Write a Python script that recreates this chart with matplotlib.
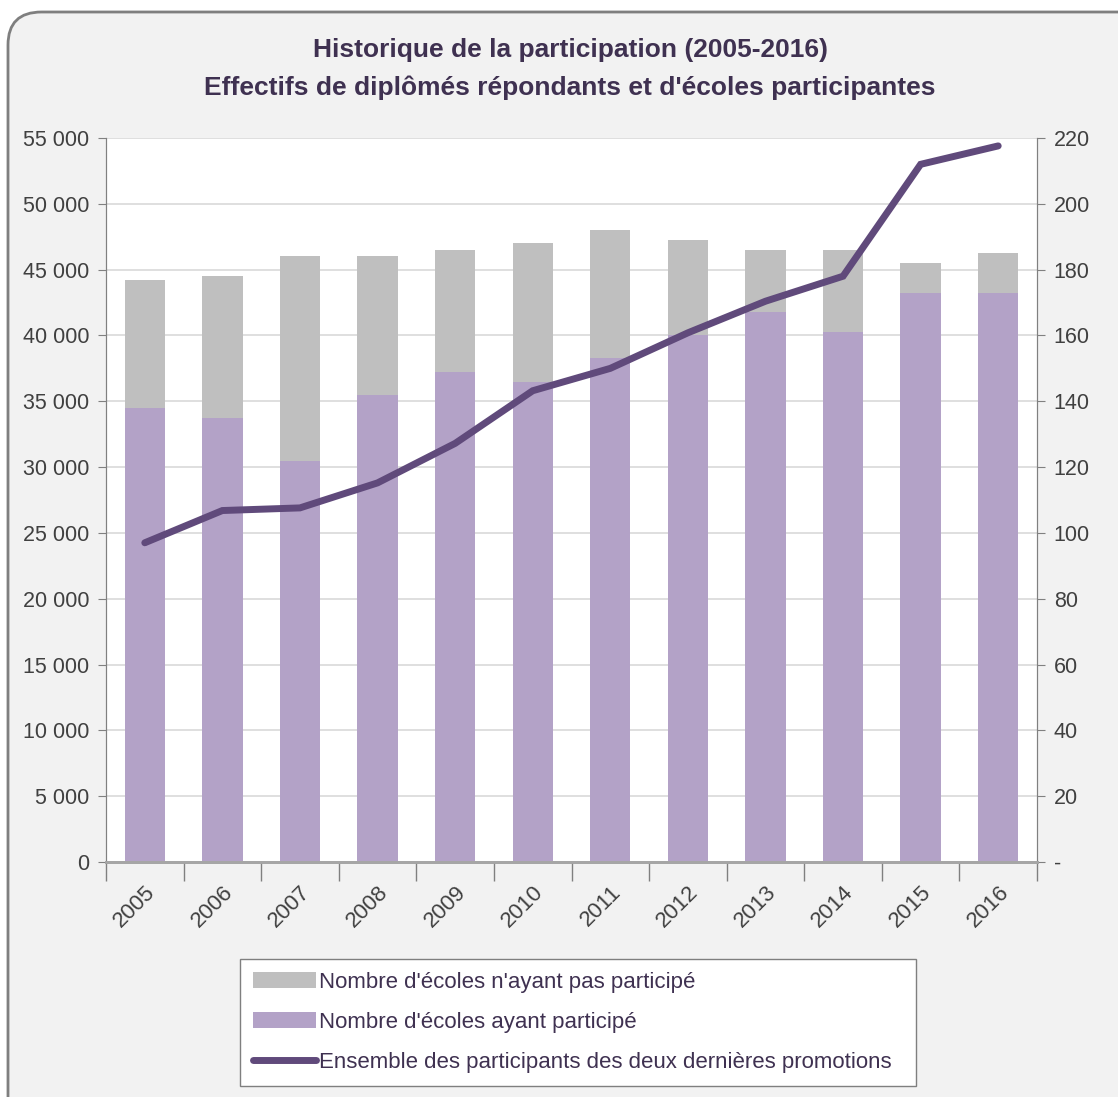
import matplotlib.pyplot as plt
from matplotlib.patches import FancyBboxPatch, Patch
from matplotlib.lines import Line2D
from matplotlib.ticker import FuncFormatter, MultipleLocator

plt.rcParams['font.family'] = ['Liberation Sans Narrow', 'Liberation Sans', 'DejaVu Sans']

# Données
annees = ['2005', '2006', '2007', '2008', '2009', '2010',
          '2011', '2012', '2013', '2014', '2015', '2016']
ecoles_participantes = [138, 135, 122, 142, 149, 146, 153, 160, 167, 161, 173, 173]
ecoles_total = [177, 178, 184, 184, 186, 188, 192, 189, 186, 186, 182, 185]
participants = [24250, 26700, 26900, 28800, 31800, 35800,
                37500, 40200, 42600, 44500, 53000, 54400]

ecoles_non = [t - p for t, p in zip(ecoles_total, ecoles_participantes)]

violet_clair = '#b3a2c7'
gris = '#bfbfbf'
violet_fonce = '#604a7b'
texte = '#3f3151'
texte_axes = '#404040'

fig = plt.figure(figsize=(11.18, 10.97), dpi=100)
fig.patch.set_facecolor('white')

# cadre arrondi gris
cadre = FancyBboxPatch((8 / 1118, -0.05), 1.2, 1.05 - 12 / 1097,
                       boxstyle='round,pad=0,rounding_size=0.03',
                       transform=fig.transFigure, facecolor='#f2f2f2',
                       edgecolor='#7f7f7f', linewidth=2, zorder=-10)
fig.patches.append(cadre)

ax = fig.add_axes([106 / 1118, 1 - 862 / 1097, (1037 - 106) / 1118, (862 - 138) / 1097])
ax2 = ax.twinx()

x = list(range(len(annees)))

# barres sur l'axe de droite (écoles)
ax2.bar(x, ecoles_participantes, width=0.52, color=violet_clair, zorder=2)
ax2.bar(x, ecoles_non, width=0.52, bottom=ecoles_participantes, color=gris, zorder=2)
ax2.set_ylim(0, 220)
ax2.yaxis.set_major_locator(MultipleLocator(20))
ax2.yaxis.set_major_formatter(FuncFormatter(lambda v, p: '-' if v == 0 else f'{int(v)}'))

# lignes de grille derrière les barres
for v in range(20, 221, 20):
    ax2.axhline(v, color='#d9d9d9', linewidth=1.2, zorder=0)

# courbe sur l'axe de gauche (participants), au-dessus des barres
ax.set_ylim(0, 55000)
ax.yaxis.set_major_locator(MultipleLocator(5000))
ax.yaxis.set_major_formatter(FuncFormatter(lambda v, p: f'{int(v):,}'.replace(',', ' ')))
ax.set_zorder(ax2.get_zorder() + 1)
ax.patch.set_visible(False)
ax2.patch.set_visible(True)
ax2.patch.set_facecolor('white')
ax.plot(x, participants, color=violet_fonce, linewidth=5, solid_capstyle='round',
        solid_joinstyle='miter', zorder=5)

ax.set_xlim(-0.5, len(annees) - 0.5)
ax.set_xticks([i - 0.5 for i in range(len(annees) + 1)])
ax.set_xticklabels([])
ax.set_xticks(x, minor=True)
ax.set_xticklabels(annees, minor=True, rotation=45, ha='right', rotation_mode='anchor',
                   fontsize=16, color=texte_axes)
ax.tick_params(axis='x', which='major', length=14, color='#808080', width=1)
ax.tick_params(axis='x', which='minor', length=0, pad=14)

ax.tick_params(axis='y', length=6, color='#808080', labelsize=15.5, labelcolor=texte_axes, pad=6)
ax2.tick_params(axis='y', length=6, color='#808080', labelsize=15.5, labelcolor=texte_axes, pad=6)

for a in (ax, ax2):
    a.spines['top'].set_visible(False)
    a.spines['left'].set_color('#808080')
    a.spines['right'].set_color('#808080')
    a.spines['bottom'].set_color('#a6a6a6')
    a.spines['bottom'].set_linewidth(2)

fig.text(0.51, 1 - 50 / 1097, 'Historique de la participation (2005-2016)',
         ha='center', va='center', fontsize=19, fontweight='bold', color=texte)
fig.text(0.51, 1 - 88 / 1097, "Effectifs de diplômés répondants et d'écoles participantes",
         ha='center', va='center', fontsize=19, fontweight='bold', color=texte)

handles = [Patch(facecolor=gris, edgecolor='none'),
           Patch(facecolor=violet_clair, edgecolor='none'),
           Line2D([0], [0], color=violet_fonce, linewidth=5, solid_capstyle='round')]
labels = ["Nombre d'écoles n'ayant pas participé",
          "Nombre d'écoles ayant participé",
          'Ensemble des participants des deux dernières promotions']
leg = fig.legend(handles, labels, loc='lower left',
                 bbox_to_anchor=(240 / 1118, 1 - 1086 / 1097, (916 - 240) / 1118, (1086 - 953) / 1097),
                 mode='expand', fontsize=16, frameon=True, fancybox=False,
                 edgecolor='#7f7f7f', facecolor='white', framealpha=1,
                 handlelength=2.8, handletextpad=0.15, labelspacing=0.85,
                 borderpad=0.6, borderaxespad=0)
leg.get_frame().set_linewidth(1)
for t in leg.get_texts():
    t.set_color(texte)

fig.savefig('out.png', dpi=100, facecolor=fig.get_facecolor())
